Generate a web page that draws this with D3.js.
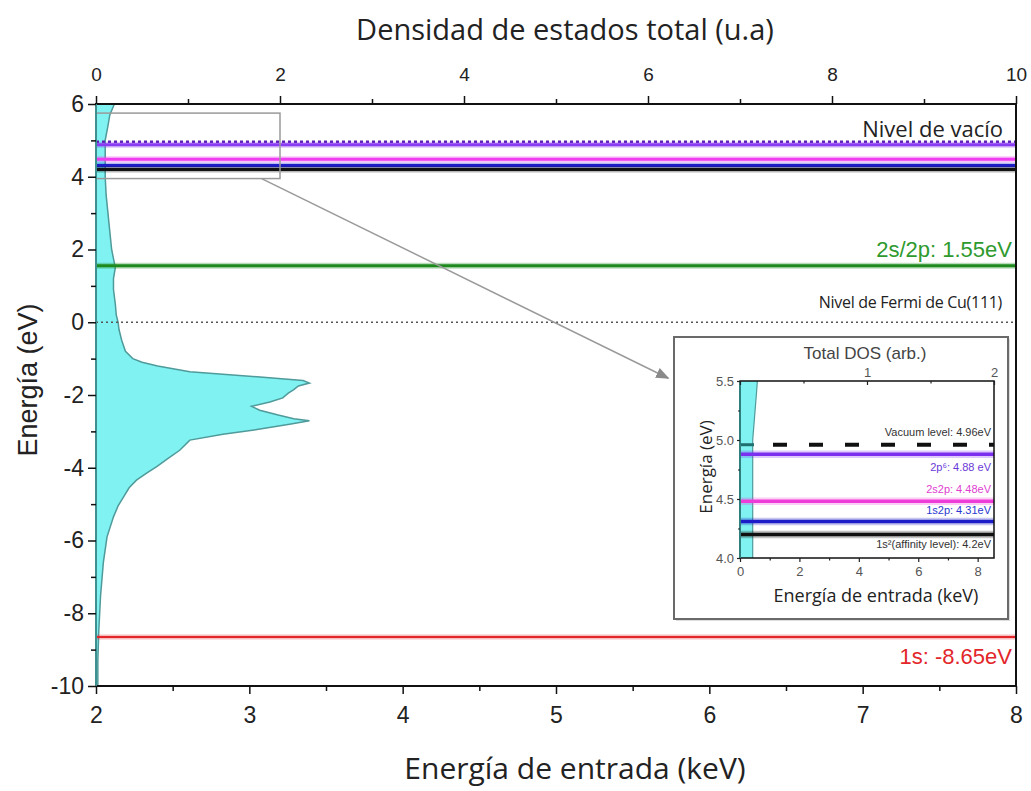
<!DOCTYPE html>
<html><head><meta charset="utf-8">
<script src="https://cdn.jsdelivr.net/npm/d3@7"></script>
<style>
body{margin:0;background:#fff;}
svg{display:block;}
</style></head>
<body>
<svg id="c" width="1031" height="791"></svg>
<script>
// ---------- DATA ----------
const dosEnergy = [6.0,5.7,5.4,5.0,4.5,4.0,3.5,3.0,2.5,2.0,1.5,1.2,0.9,0.5,0.2,0.0,-0.2,-0.5,-0.8,-1.0,-1.1,-1.2,-1.36,-1.5,-1.6,-1.67,-1.75,-1.85,-1.95,-2.08,-2.19,-2.31,-2.42,-2.55,-2.65,-2.71,-2.8,-2.95,-3.08,-3.24,-3.52,-3.75,-3.97,-4.15,-4.34,-4.55,-4.8,-5.05,-5.35,-5.9,-6.6,-7.5,-8.5,-9.3,-10.0];
const dosValue  = [0.2,0.15,0.13,0.10,0.10,0.10,0.11,0.13,0.15,0.17,0.21,0.19,0.19,0.21,0.22,0.24,0.25,0.28,0.32,0.40,0.50,0.67,1.02,1.75,2.25,2.32,2.20,2.15,2.09,2.03,1.89,1.69,1.78,1.98,2.15,2.32,2.12,1.75,1.38,1.02,0.91,0.78,0.66,0.55,0.44,0.36,0.30,0.24,0.19,0.12,0.08,0.05,0.03,0.02,0.02];

const mainLevelKeys     = ["vac","2p6","2s2p","1s2p","1s2","2s/2p","fermi","1s"];
const mainLevelEnergies = [4.96, 4.88, 4.48, 4.31, 4.2, 1.55, 0.0, -8.65];

const mainLabels        = ["Nivel de vacío","2s/2p: 1.55eV","Nivel de Fermi de Cu(111)","1s: -8.65eV"];
const insetLevelKeys     = ["vac","2p6","2s2p","1s2p","1s2"];
const insetLevelEnergies = [4.96, 4.88, 4.48, 4.31, 4.2];
const insetLabels        = ["Vacuum level: 4.96eV","2p⁶: 4.88 eV","2s2p: 4.48eV","1s2p: 4.31eV","1s²(affinity level): 4.2eV"];

const bottomTicks = [2,3,4,5,6,7,8];
const bottomMinor = [2.5,3.5,4.5,5.5,6.5,7.5];
const topTicks    = [0,2,4,6,8,10];
const topMinor    = [1,3,5,7,9];
const yTicks      = [-10,-8,-6,-4,-2,0,2,4,6];
const yMinor      = [-9,-7,-5,-3,-1,1,3,5];

const insetYTicks = [4.0,4.5,5.0,5.5];
const insetYMinor = [4.25,4.75,5.25];
const insetXTicks = [0,2,4,6,8];
const insetXMinor = [1,3,5,7];
const insetTopTicks = [0,1,2];
const insetTopMinor = [0.5,1.5];

// zoom region (DOS units, eV) and arrow (DOS units, eV)
const zoomBox = {dos:[0,2], e:[3.95,5.75]};
const arrowFrom = [1.8, 3.95], arrowTo = [6.22, -1.54];

// ---------- STYLES ----------
const levelStyle = {
  "vac":   {color:"#5a1fb0", width:2.5, dash:"3,3"},
  "2p6":   {color:"#8a3cf2", width:3},
  "2s2p":  {color:"#ee3cee", width:3},
  "1s2p":  {color:"#1c1cc8", width:3},
  "1s2":   {color:"#111111", width:3},
  "2s/2p": {color:"#1e8a1e", width:3},
  "fermi": {color:"#555555", width:1.5, dash:"2,3"},
  "1s":    {color:"#e3262a", width:2}
};
const insetStyle = {
  "vac":  {color:"#111", width:4, dash:"14,22"},
  "2p6":  {color:"#7a30ee", width:3.5},
  "2s2p": {color:"#ee3cd8", width:3.5},
  "1s2p": {color:"#1c1cc8", width:3.5},
  "1s2":  {color:"#111", width:3.5}
};

const svg = d3.select("#c");
const TICKFONT = "'Liberation Sans', Arial, sans-serif";
const LABFONT = "'Open Sans', 'Noto Sans', sans-serif";
const fmt = d => String(d);

// ---------- MAIN SCALES ----------
const L=96, R=1016, T=104, B=686;
const x = d3.scaleLinear().domain([2,8]).range([L,R]);
const xd = d3.scaleLinear().domain([0,10]).range([L,R]);
const y = d3.scaleLinear().domain([-10,6]).range([B,T]);

const dos = dosEnergy.map((e,i)=>({e, v:dosValue[i]}));

// DOS area
const area = d3.area().y(d=>y(d.e)).x0(xd(0)).x1(d=>xd(d.v));
svg.append("path").datum(dos).attr("d",area)
  .attr("fill","#80f2f2").attr("stroke","none");
svg.append("path").datum(dos).attr("d",d3.line().y(d=>y(d.e)).x(d=>xd(d.v)))
  .attr("fill","none").attr("stroke","#4f9a9a").attr("stroke-width",1.5);

// level lines
mainLevelKeys.forEach((k,i)=>{
  const s = levelStyle[k], e = mainLevelEnergies[i];
  if(!s.dash){
    svg.append("line").attr("x1",L).attr("x2",R).attr("y1",y(e)).attr("y2",y(e))
      .attr("stroke",s.color).attr("stroke-opacity",0.3).attr("stroke-width",s.width+3);
  }
  svg.append("line").attr("x1",L).attr("x2",R).attr("y1",y(e)).attr("y2",y(e))
    .attr("stroke",s.color).attr("stroke-width",s.width)
    .attr("stroke-dasharray",s.dash||null);
});

// zoom rectangle
svg.append("rect")
  .attr("x",xd(zoomBox.dos[0])).attr("y",y(zoomBox.e[1]))
  .attr("width",xd(zoomBox.dos[1])-xd(zoomBox.dos[0]))
  .attr("height",y(zoomBox.e[0])-y(zoomBox.e[1]))
  .attr("fill","none").attr("stroke","#9a9a9a").attr("stroke-width",1.5);

// arrow
const defs = svg.append("defs");
defs.append("marker").attr("id","ah").attr("viewBox","0 0 10 10").attr("refX",9).attr("refY",5)
  .attr("markerWidth",9).attr("markerHeight",9).attr("orient","auto")
  .append("path").attr("d","M0,1 L10,5 L0,9 Z").attr("fill","#8a8a8a");
svg.append("line")
  .attr("x1",xd(arrowFrom[0])).attr("y1",y(arrowFrom[1]))
  .attr("x2",xd(arrowTo[0])).attr("y2",y(arrowTo[1]))
  .attr("stroke","#9a9a9a").attr("stroke-width",1.5).attr("marker-end","url(#ah)");

// frame
svg.append("rect").attr("x",L).attr("y",T).attr("width",R-L).attr("height",B-T)
  .attr("fill","none").attr("stroke","#111").attr("stroke-width",2);
svg.append("line").attr("x1",L).attr("x2",L).attr("y1",T).attr("y2",B)
  .attr("stroke","#3f8f8f").attr("stroke-width",2);

function styleAxis(g, fs){
  g.select(".domain").remove();
  g.selectAll(".tick line").attr("stroke","#111").attr("stroke-width",1.5);
  g.selectAll(".tick text").attr("font-family",TICKFONT).attr("font-size",fs).attr("fill","#222");
}
// bottom
svg.append("g").attr("transform",`translate(0,${B})`)
  .call(d3.axisBottom(x).tickValues(bottomTicks).tickSize(8).tickPadding(13).tickFormat(fmt))
  .call(g=>styleAxis(g,23));
svg.append("g").attr("transform",`translate(0,${B})`)
  .call(d3.axisBottom(x).tickValues(bottomMinor).tickSize(5).tickFormat(""))
  .call(g=>styleAxis(g,23));
// top
svg.append("g").attr("transform",`translate(0,${T})`)
  .call(d3.axisTop(xd).tickValues(topTicks).tickSize(8).tickPadding(15).tickFormat(fmt))
  .call(g=>styleAxis(g,19));
svg.append("g").attr("transform",`translate(0,${T})`)
  .call(d3.axisTop(xd).tickValues(topMinor).tickSize(5).tickFormat(""))
  .call(g=>styleAxis(g,19));
// left
svg.append("g").attr("transform",`translate(${L},0)`)
  .call(d3.axisLeft(y).tickValues(yTicks).tickSize(8).tickPadding(4).tickFormat(fmt))
  .call(g=>styleAxis(g,23));
svg.append("g").attr("transform",`translate(${L},0)`)
  .call(d3.axisLeft(y).tickValues(yMinor).tickSize(5).tickFormat(""))
  .call(g=>styleAxis(g,23));

// axis titles
svg.append("text").attr("x",565).attr("y",40).attr("text-anchor","middle")
  .attr("font-family",LABFONT).attr("font-size",29).attr("fill","#222")
  .text("Densidad de estados total (u.a)");
svg.append("text").attr("x",575).attr("y",779).attr("text-anchor","middle")
  .attr("font-family",LABFONT).attr("font-size",30).attr("fill","#222")
  .text("Energía de entrada (keV)");
svg.append("text").attr("transform","translate(37,380) rotate(-90)").attr("text-anchor","middle")
  .attr("font-family",TICKFONT).attr("font-size",27).attr("fill","#222")
  .text("Energía (eV)");

// level labels
svg.append("text").attr("x",1003).attr("y",y(4.96)-5).attr("text-anchor","end")
  .attr("font-family",LABFONT).attr("font-size",22).attr("fill","#222").text(mainLabels[0]);
svg.append("text").attr("x",1012).attr("y",y(1.55)-9).attr("text-anchor","end")
  .attr("font-family",TICKFONT).attr("font-size",22).attr("fill","#2e9a2e").text(mainLabels[1]);
svg.append("text").attr("x",1002).attr("y",y(0)-14).attr("text-anchor","end")
  .attr("font-family",LABFONT).attr("font-size",16).attr("fill","#222").attr("letter-spacing","-0.3").text(mainLabels[2]);
svg.append("text").attr("x",1012).attr("y",y(-8.65)+27).attr("text-anchor","end")
  .attr("font-family",TICKFONT).attr("font-size",22).attr("fill","#e3262a").text(mainLabels[3]);

// ---------- INSET ----------
svg.append("rect").attr("x",676).attr("y",339).attr("width",334).attr("height",282)
  .attr("fill","#bbb").attr("opacity",0.5);
svg.append("rect").attr("x",674).attr("y",337).attr("width",334).attr("height",282)
  .attr("fill","#fff").attr("stroke","#6a6a6a").attr("stroke-width",2);

const iL=740, iR=994, iT=381, iB=558;
const xi = d3.scaleLinear().domain([0,8.55]).range([iL,iR]);
const xiTop = d3.scaleLinear().domain([0,2]).range([iL,iR]);
const yi = d3.scaleLinear().domain([4,5.5]).range([iB,iT]);

defs.append("clipPath").attr("id","iclip").append("rect")
  .attr("x",iL).attr("y",iT).attr("width",iR-iL).attr("height",iB-iT);
const ig = svg.append("g").attr("clip-path","url(#iclip)");
ig.append("path").datum(dos)
  .attr("d",d3.area().y(d=>yi(d.e)).x0(xiTop(0)).x1(d=>xiTop(d.v)))
  .attr("fill","#80f2f2");
ig.append("path").datum(dos)
  .attr("d",d3.line().y(d=>yi(d.e)).x(d=>xiTop(d.v)))
  .attr("fill","none").attr("stroke","#4f9a9a").attr("stroke-width",1.2);

insetLevelKeys.forEach((k,i)=>{
  const s = insetStyle[k], e = insetLevelEnergies[i];
  if(!s.dash){
    ig.append("line").attr("x1",iL).attr("x2",iR).attr("y1",yi(e)).attr("y2",yi(e))
      .attr("stroke",s.color).attr("stroke-opacity",0.25).attr("stroke-width",s.width+4);
  }
  ig.append("line").attr("x1",s.dash?iL+33:iL).attr("x2",iR).attr("y1",yi(e)).attr("y2",yi(e))
    .attr("stroke",s.color).attr("stroke-width",s.width)
    .attr("stroke-dasharray",s.dash||null);
});
ig.append("line").attr("x1",iL).attr("x2",iL+14).attr("y1",yi(4.96)).attr("y2",yi(4.96))
  .attr("stroke","#1f6f6f").attr("stroke-width",3);

svg.append("rect").attr("x",iL).attr("y",iT).attr("width",iR-iL).attr("height",iB-iT)
  .attr("fill","none").attr("stroke","#111").attr("stroke-width",1.5);
svg.append("line").attr("x1",iL).attr("x2",iL).attr("y1",iT).attr("y2",iB)
  .attr("stroke","#2f7f7f").attr("stroke-width",2);

function styleInset(g){
  g.select(".domain").remove();
  g.selectAll(".tick line").attr("stroke","#222").attr("stroke-width",1.2);
  g.selectAll(".tick text").attr("font-family",TICKFONT).attr("font-size",13).attr("fill","#555");
}
svg.append("g").attr("transform",`translate(0,${iB})`)
  .call(d3.axisBottom(xi).tickValues(insetXTicks).tickSize(4).tickPadding(5).tickFormat(fmt)).call(styleInset);
svg.append("g").attr("transform",`translate(0,${iB})`)
  .call(d3.axisBottom(xi).tickValues(insetXMinor).tickSize(2.5).tickFormat("")).call(styleInset);
svg.append("g").attr("transform",`translate(0,${iT})`)
  .call(d3.axisBottom(xiTop).tickValues(insetTopTicks).tickSize(4).tickFormat("")).call(styleInset);
svg.append("g").attr("transform",`translate(0,${iT})`)
  .call(d3.axisTop(xiTop).tickValues(insetTopTicks.slice(1)).tickSize(0).tickPadding(4).tickFormat(fmt)).call(styleInset);
svg.append("g").attr("transform",`translate(0,${iT})`)
  .call(d3.axisBottom(xiTop).tickValues(insetTopMinor).tickSize(2.5).tickFormat("")).call(styleInset);
svg.append("g").attr("transform",`translate(${iL},0)`)
  .call(d3.axisLeft(yi).tickValues(insetYTicks).tickSize(3).tickPadding(3).tickFormat(d3.format(".1f"))).call(styleInset);
svg.append("g").attr("transform",`translate(${iL},0)`)
  .call(d3.axisLeft(yi).tickValues(insetYMinor).tickSize(2).tickFormat("")).call(styleInset);

svg.append("text").attr("x",865).attr("y",359).attr("text-anchor","middle")
  .attr("font-family",TICKFONT).attr("font-size",17).attr("fill","#444").text("Total DOS (arb.)");
svg.append("text").attr("x",876).attr("y",602).attr("text-anchor","middle")
  .attr("font-family",LABFONT).attr("font-size",18).attr("fill","#222").text("Energía de entrada (keV)");
svg.append("text").attr("transform","translate(712,467) rotate(-90)").attr("text-anchor","middle")
  .attr("font-family",LABFONT).attr("font-size",17).attr("fill","#222").text("Energía (eV)");

const insetLabelColors = ["#333","#6a3ad8","#e040d0","#2a3ad0","#333"];
const insetLabelDy = [-9, 17, -8, -7, 14];
insetLevelEnergies.forEach((e,i)=>{
  svg.append("text").attr("x",991).attr("y",yi(e)+insetLabelDy[i]).attr("text-anchor","end")
    .attr("font-family",TICKFONT).attr("font-size",11).attr("fill",insetLabelColors[i])
    .text(insetLabels[i]);
});
</script>
</body></html>
